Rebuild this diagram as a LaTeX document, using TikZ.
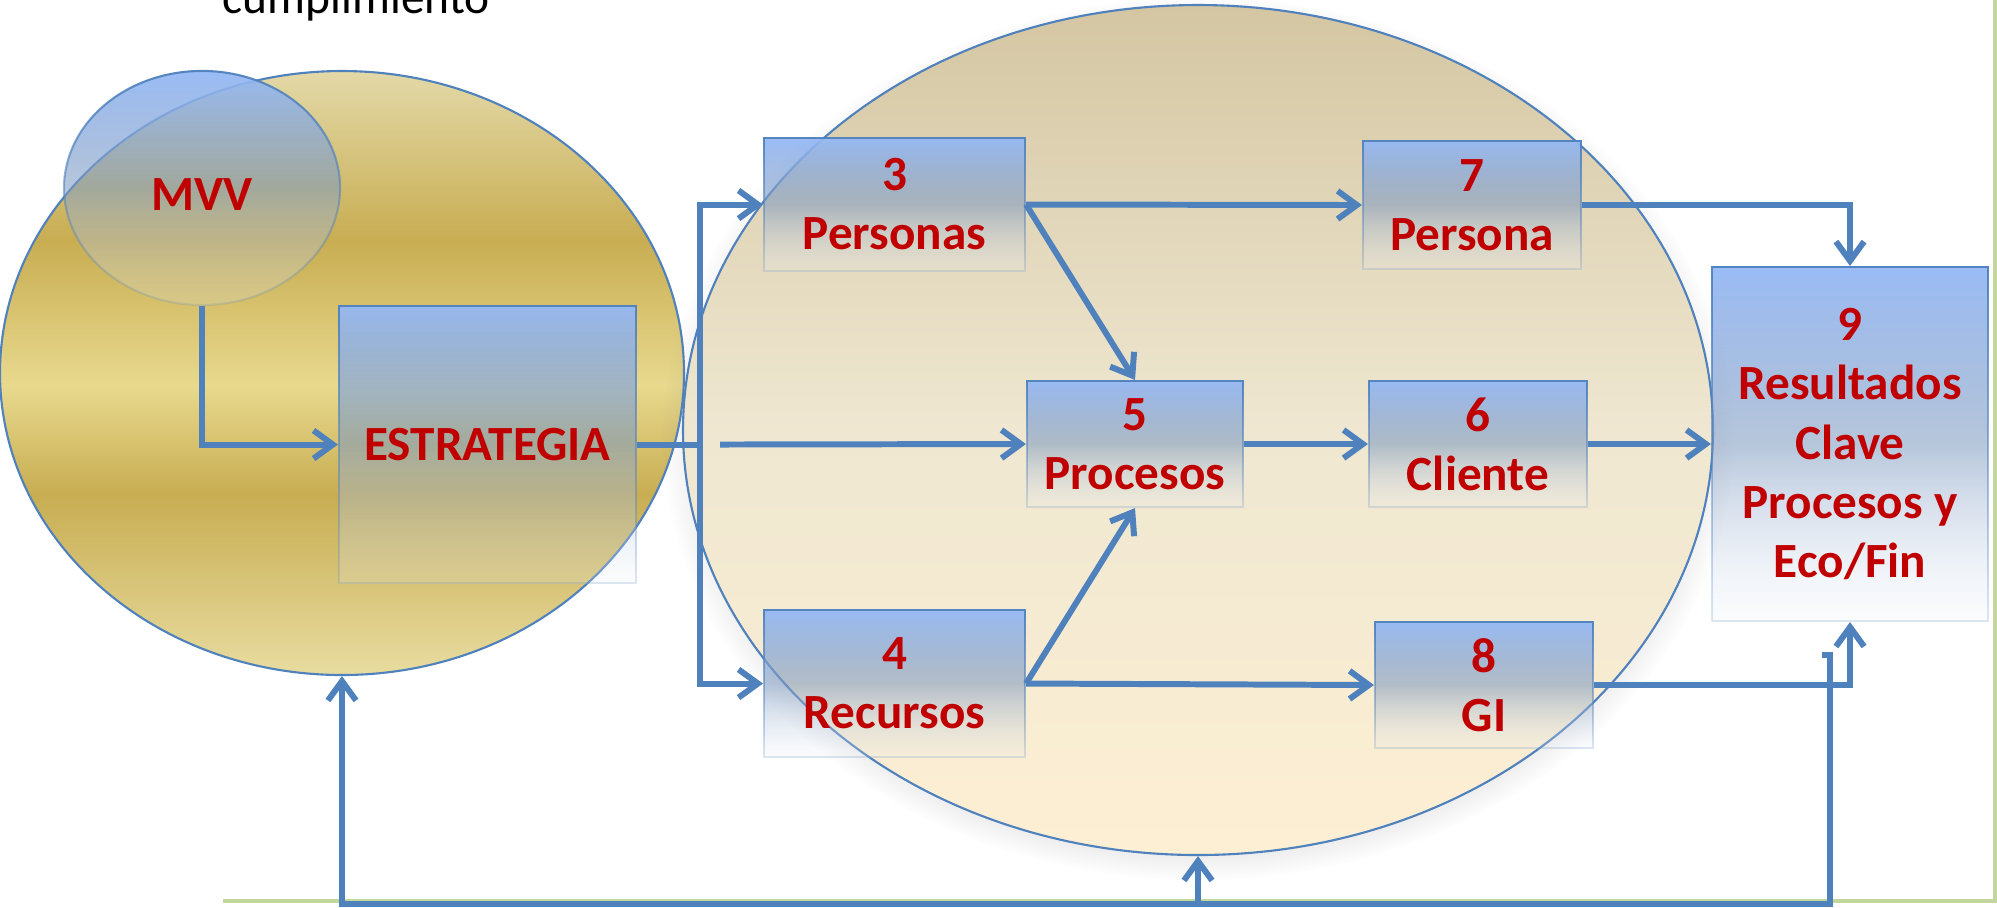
\documentclass[tikz,border=0pt]{standalone}
\usepackage{fontspec}
\setmainfont{Carlito}
\usepackage{tikz}
\usetikzlibrary{shapes,arrows}
\usetikzlibrary{arrows.meta, shapes.geometric, fadings, shadows}

\definecolor{linea}{HTML}{4F81BD}
\definecolor{rojo}{HTML}{C00000}
\definecolor{verde}{HTML}{C3D69B}
\definecolor{azulA}{HTML}{94B8F5}
\definecolor{azulB}{HTML}{7E9AC0}
\definecolor{azulC}{HTML}{E8EEF7}
\definecolor{beigeA}{HTML}{D4C6A2}
\definecolor{beigeB}{HTML}{EFE7D1}
\definecolor{beigeC}{HTML}{FDEFD3}
\definecolor{oroA}{HTML}{E8DCA0}
\definecolor{oroB}{HTML}{C8AD52}
\definecolor{oroC}{HTML}{E8D98E}
\definecolor{oroD}{HTML}{E3D9A8}

\pgfdeclareverticalshading{oro}{100bp}{color(0bp)=(oroA); color(25bp)=(oroA); color(40bp)=(oroB); color(49bp)=(oroC); color(61bp)=(oroB); color(75bp)=(oroD); color(100bp)=(oroD)}
\tikzfading[name=cajafade, top color=transparent!5, middle color=transparent!18, bottom color=transparent!82]

\begin{document}
\begin{tikzpicture}[x=0.1mm, y=-0.1mm,
            caja/.style={draw=linea, line width=0.6pt, top color=azulA, bottom color=azulC, middle color=azulB, path fading=cajafade, text=rojo, font=\fontsize{14}{16.8}\selectfont\bfseries, align=center, inner sep=0pt},
            flecha/.style={draw=linea, line width=1.7pt, -{Straight Barb[length=5.5pt, width=8pt]}},
            tramo/.style={draw=linea, line width=1.7pt}]
            \useasboundingbox (0,0) rectangle (1997,907);
            \node[anchor=base west, inner sep=0pt, font=\fontsize{13.5}{16}\selectfont] (cumpl) at (222,13) {cumplimiento};
            \node[anchor=base, inner sep=0pt, font=\fontsize{13.5}{16}\selectfont] (g) at (1333,-9) {g};
            \node[ellipse, draw=linea, line width=0.6pt, shade, shading=oro, minimum width=68.4mm, minimum height=60.4mm, inner sep=0pt] (oro) at (342,373) {};
            \node[ellipse, draw=linea, line width=0.6pt, top color=beigeA, bottom color=beigeC, middle color=beigeB, circular drop shadow={shadow xshift=0mm, shadow yshift=-0.8mm, shadow scale=1.04, opacity=0.35}, minimum width=103mm, minimum height=85mm, inner sep=0pt] (gestion) at (1198,430) {};
            \node[caja, ellipse, minimum width=27.6mm, minimum height=23.4mm] (mvv) at (202,188) {\raisebox{-0.65mm}[\height][0pt]{MVV}};
            \node[caja, minimum width=29.7mm, minimum height=27.7mm] (estr) at (487.5,444.5) {ESTRATEGIA};
            \node[caja, minimum width=26.1mm, minimum height=13.3mm] (3) at (894.5,204.5) {3\\Personas};
            \node[caja, minimum width=26.1mm, minimum height=14.7mm] (4) at (894.5,683.5) {4\\Recursos};
            \node[caja, minimum width=21.6mm, minimum height=12.6mm] (5) at (1135,444) {5\\Procesos};
            \node[caja, minimum width=21.8mm, minimum height=12.6mm] (6) at (1478,444) {6\\Cliente};
            \node[caja, minimum width=21.8mm, minimum height=12.8mm] (7) at (1472,205) {7\\Persona};
            \node[caja, minimum width=21.8mm, minimum height=12.6mm] (8) at (1484,685) {8\\GI};
            \node[caja, minimum width=27.6mm, minimum height=35.4mm] (9) at (1850,444) {9\\Resultados\\Clave\\Procesos y\\Eco/Fin};
            \coordinate (bus) at (700,444.5);
            \coordinate (c5) at (720,444.5);
            \coordinate (gancho) at (1822,655);
            \coordinate (esq) at (1830,904);
            \draw[verde, line width=1.2pt] (1995,0) -- (1995,903);
            \draw[verde, line width=1.4pt] (223,901) -- (1997,901);
            \draw[flecha] (mvv.south) |- (estr.west);
            \draw[tramo] (estr.east) -- (bus);
            \draw[flecha] (bus) |- (3.west);
            \draw[flecha] (bus) |- (4.west);
            \draw[flecha] (c5) -- (5.west);
            \draw[flecha] (3.east) -- (7.west);
            \draw[flecha] (3.east) -- (5.north);
            \draw[flecha] (4.east) -- (5.south);
            \draw[flecha] (4.east) -- (8.west);
            \draw[flecha] (5.east) -- (6.west);
            \draw[flecha] (6.east) -- (9.west);
            \draw[flecha] (7.east) -| (9.north);
            \draw[flecha] (8.east) -| (9.south);
            \draw[flecha] (gancho) -- (gancho -| esq) -- (esq) -- (esq -| oro.south) -- (oro.south);
            \draw[flecha] (esq -| gestion.south) -- (gestion.south);
        \end{tikzpicture}
\end{document}
